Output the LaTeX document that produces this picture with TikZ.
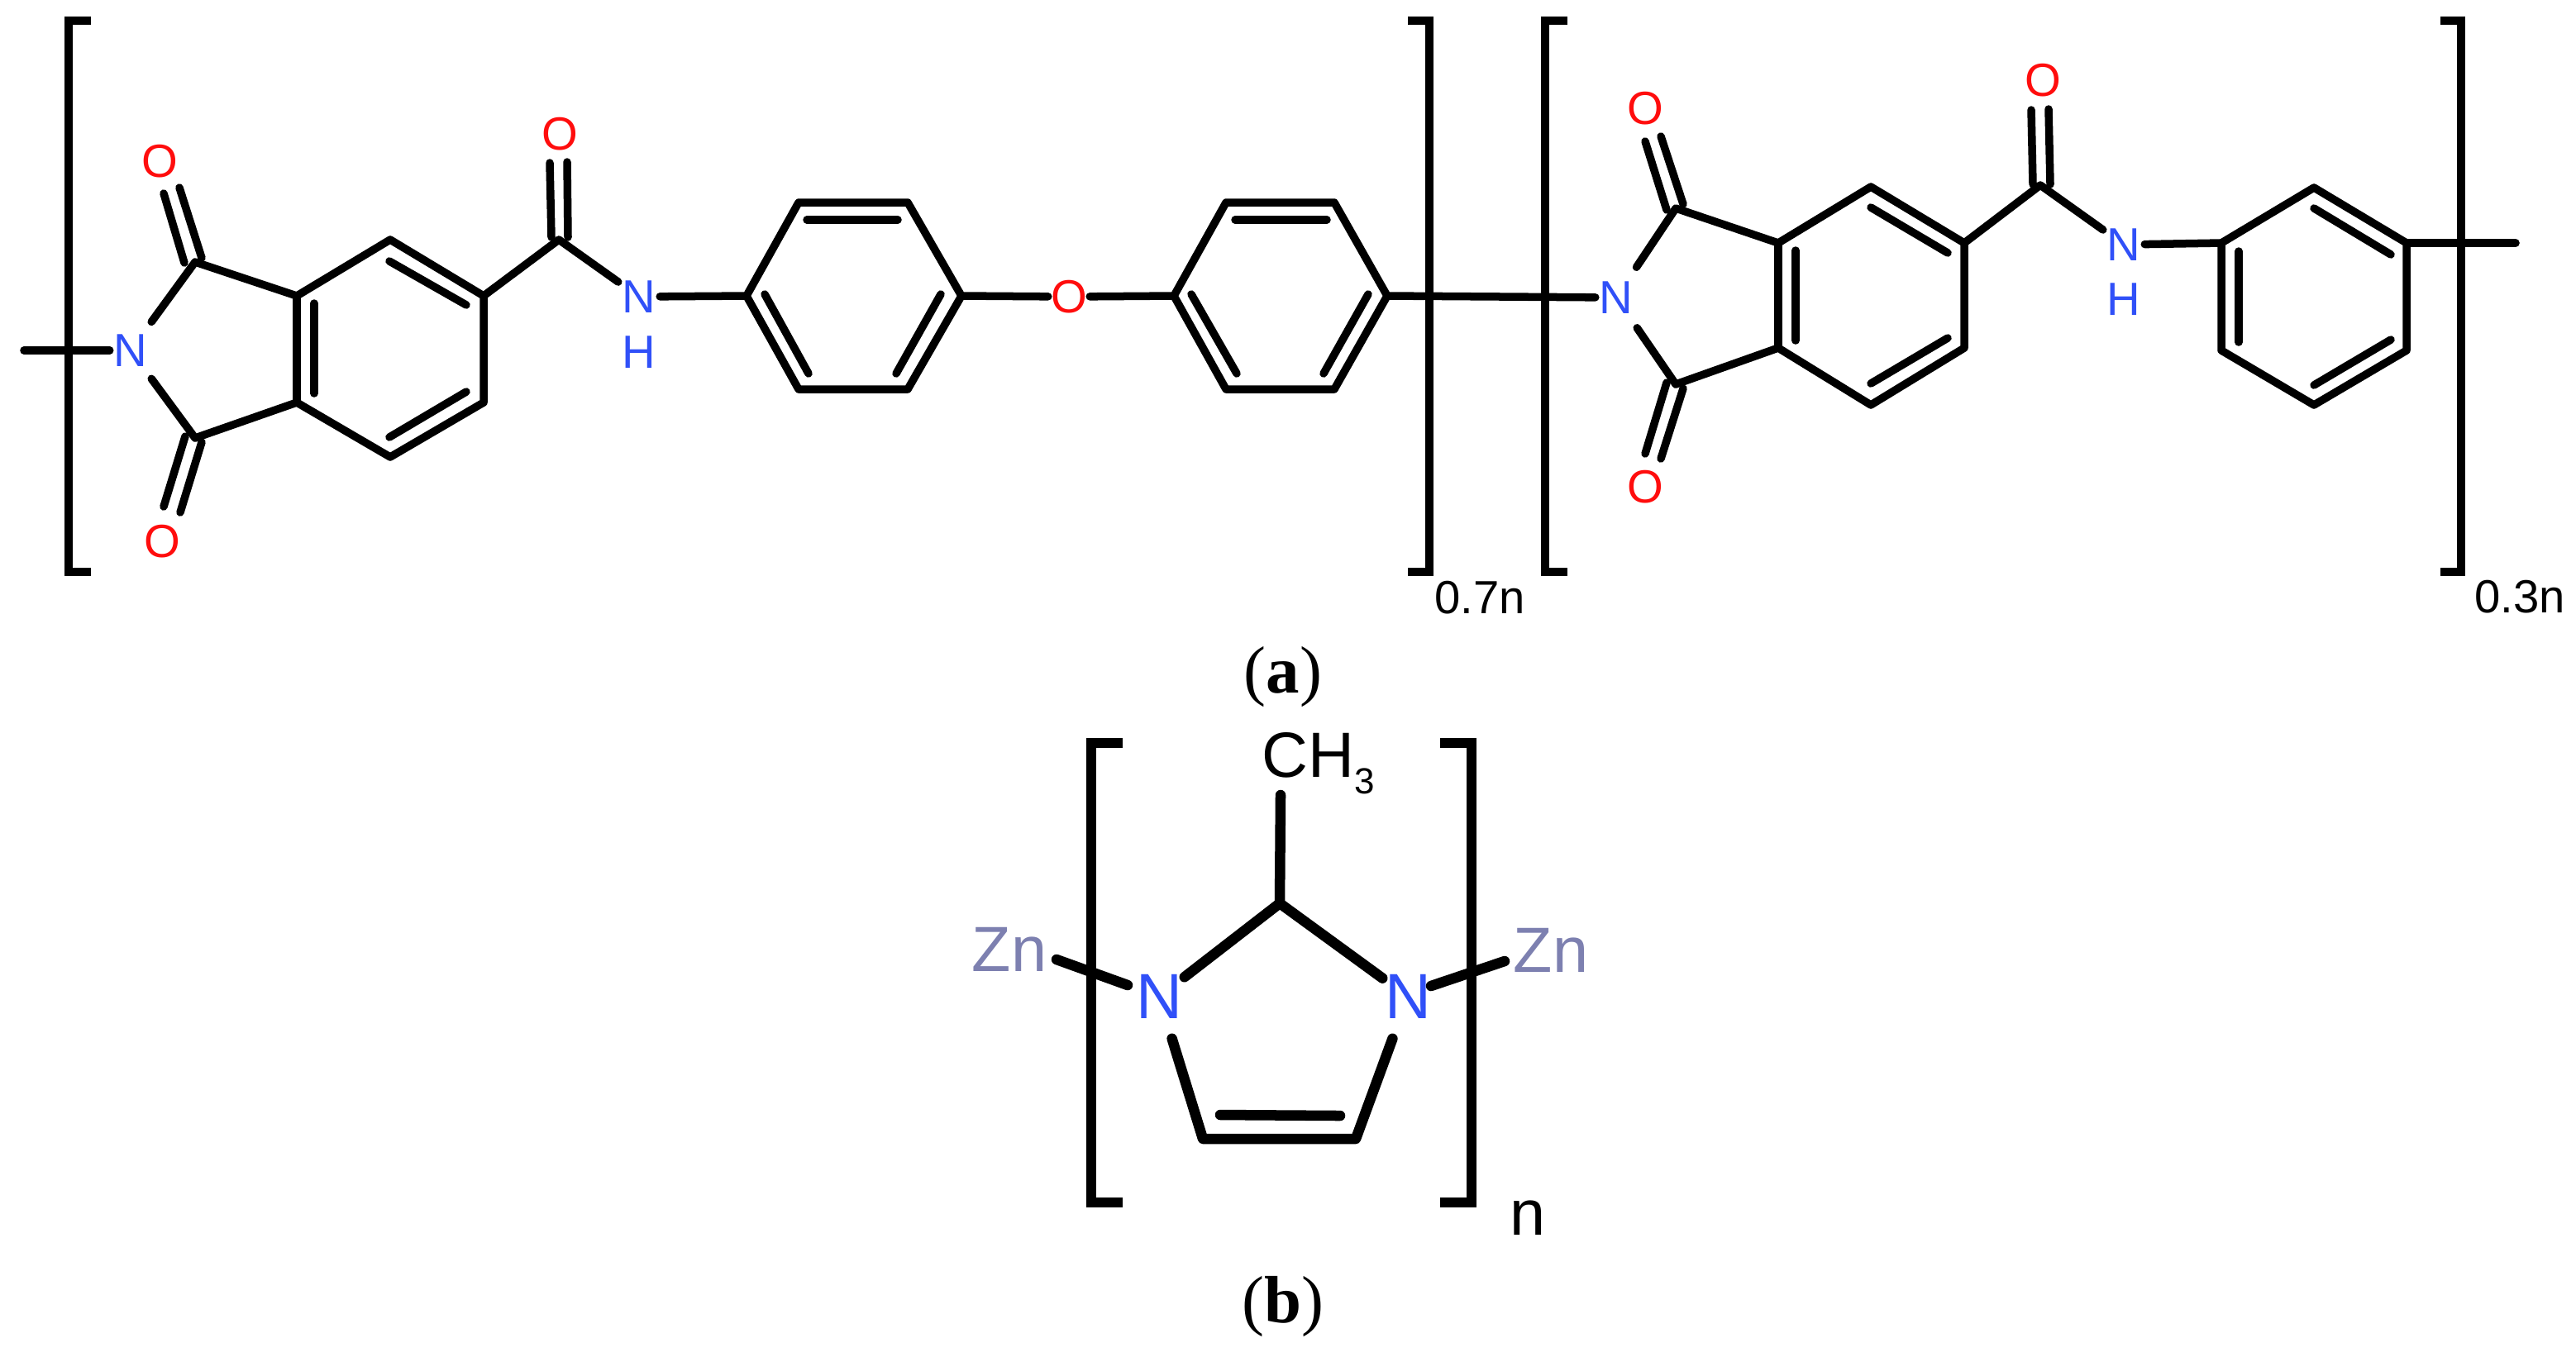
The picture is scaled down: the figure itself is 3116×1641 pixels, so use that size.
\documentclass[tikz,border=0pt]{standalone}
\usepackage{fontspec}
\setmainfont{Liberation Sans}
\newfontfamily\capfont{Liberation Serif}
\definecolor{nblue}{RGB}{48,80,248}
\definecolor{ored}{RGB}{255,13,13}
\definecolor{znblue}{RGB}{125,128,176}
\tikzset{
  bond/.style={line width=0.095cm,line cap=round,line join=round},
  bondb/.style={line width=0.125cm,line cap=round,line join=round},
  bracket/.style={line width=0.095cm,line cap=butt,line join=miter},
  bracketb/.style={line width=0.125cm,line cap=butt,line join=miter},
  atom/.style={inner sep=0pt,minimum width=0.49cm,minimum height=0.72cm,font=\fontsize{16}{16}\selectfont},
  atomb/.style={inner sep=0pt,minimum width=0.6cm,minimum height=1cm,font=\fontsize{22}{22}\selectfont},
  caption/.style={inner sep=0pt,font=\capfont\fontsize{23}{23}\selectfont}
}
\begin{document}
\begin{tikzpicture}[x=0.01cm,y=-0.01cm]
\useasboundingbox (0,0) rectangle (3116,1641);
\node[atom,text=nblue] (na1) at (158,424) {N}; %atoms, left unit
\node[atom,text=ored] (oa1) at (193,195) {O};
\node[atom,text=ored] (oa2) at (196,655) {O};
\node[atom,text=ored] (oa3) at (677,162) {O};
\node[atom,text=nblue] (na2) at (773,359) {N};
\node[atom,text=nblue] (ha2) at (773,426) {H};
\node[atom,text=ored] (oe) at (1293,359) {O};
\node[atom] (xa) at (1790,723) {0.7n};
\node[atom,text=nblue] (nc1) at (1955,360) {N}; %atoms, right unit
\node[atom,text=ored] (oc1) at (1990,131) {O};
\node[atom,text=ored] (oc2) at (1990,589) {O};
\node[atom,text=ored] (oc3) at (2471,97) {O};
\node[atom,text=nblue] (nc2) at (2569,296) {N};
\node[atom,text=nblue] (hc2) at (2569,362) {H};
\node[atom] (xc) at (3048,722) {0.3n};
\node[atomb,text=nblue] (nl) at (1402,1206) {N}; %atoms, lower unit
\node[atomb,text=nblue] (nr) at (1703,1206) {N};
\node[atomb,text=znblue] (znl) at (1221,1149) {Zn};
\node[atomb,text=znblue] (znr) at (1876,1150) {Zn};
\node[atomb,anchor=base west] (ch) at (1526,940) {CH\raisebox{-0.2cm}{\fontsize{12.5}{12}\selectfont 3}};
\node[atomb] (xb) at (1848,1474) {n};
\node[caption] (capa) at (1552,819) {(\textbf{a})};
\node[caption] (capb) at (1552,1581) {(\textbf{b})};
%brackets
\coordinate (ba1) at (83,25); \coordinate (ba2) at (83,692);
\coordinate (ba3) at (1729,25); \coordinate (ba4) at (1729,692);
\coordinate (bc1) at (1869,25); \coordinate (bc2) at (1869,692);
\coordinate (bc3) at (2977,25); \coordinate (bc4) at (2977,692);
\coordinate (bb1) at (1320,899); \coordinate (bb2) at (1320,1455);
\coordinate (bb3) at (1780,899); \coordinate (bb4) at (1780,1455);
\draw[bracket] (ba1) ++(27,0) -- (ba1) -- (ba2) -- ++(27,0);
\draw[bracket] (ba3) ++(-26,0) -- (ba3) -- (ba4) -- ++(-26,0);
\draw[bracket] (bc1) ++(27,0) -- (bc1) -- (bc2) -- ++(27,0);
\draw[bracket] (bc3) ++(-25,0) -- (bc3) -- (bc4) -- ++(-25,0);
\draw[bracketb] (bb1) ++(38,0) -- (bb1) -- (bb2) -- ++(38,0);
\draw[bracketb] (bb3) ++(-38,0) -- (bb3) -- (bb4) -- ++(-38,0);
%left unit, imide and benzene ring
\coordinate (a1) at (236,317); \coordinate (a2) at (236,530);
\coordinate (a3) at (359,358); \coordinate (a4) at (472,290);
\coordinate (a5) at (585,358); \coordinate (a6) at (585,487);
\coordinate (a7) at (472,553); \coordinate (a8) at (359,487);
\coordinate (a9) at (676,290); \coordinate (a0) at (29,424);
\draw[bond] (a0) -- (na1);
\draw[bond] (na1) -- (a1) -- (a3) -- (a4) -- (a5) -- (a6) -- (a7) -- (a8) -- (a2) -- (na1);
\draw[bond] (a3) -- (a8);
\draw[bond] (a5) -- (a9) -- (na2);
\coordinate (i1) at (380,367); \coordinate (i2) at (380,476); %inner lines
\coordinate (i3) at (471,316); \coordinate (i4) at (564,369);
\coordinate (i5) at (471,529); \coordinate (i6) at (564,474);
\draw[bond] (i1) -- (i2);
\draw[bond] (i3) -- (i4);
\draw[bond] (i5) -- (i6);
\coordinate (d1) at (198,234); \coordinate (d2) at (223,318); %carbonyls
\coordinate (d3) at (217,227); \coordinate (d4) at (244,312);
\coordinate (d5) at (224,528); \coordinate (d6) at (198,613);
\coordinate (d7) at (244,535); \coordinate (d8) at (218,620);
\coordinate (d9) at (665,197); \coordinate (d10) at (667,287);
\coordinate (d11) at (686,196); \coordinate (d12) at (687,287);
\draw[bond] (d1) -- (d2);
\draw[bond] (d3) -- (d4);
\draw[bond] (d5) -- (d6);
\draw[bond] (d7) -- (d8);
\draw[bond] (d9) -- (d10);
\draw[bond] (d11) -- (d12);
%left unit, two phenyl rings
\coordinate (r1) at (903,358); \coordinate (r2) at (966,245);
\coordinate (r3) at (1098,245); \coordinate (r4) at (1163,358);
\coordinate (r5) at (1098,471); \coordinate (r6) at (966,471);
\coordinate (s1) at (1420,358); \coordinate (s2) at (1483,245);
\coordinate (s3) at (1614,245); \coordinate (s4) at (1678,358);
\coordinate (s5) at (1614,471); \coordinate (s6) at (1483,471);
\draw[bond] (na2) -- (r1);
\draw[bond] (r1) -- (r2) -- (r3) -- (r4) -- (r5) -- (r6) -- cycle;
\draw[bond] (r4) -- (oe);
\draw[bond] (oe) -- (s1);
\draw[bond] (s1) -- (s2) -- (s3) -- (s4) -- (s5) -- (s6) -- cycle;
\draw[bond] (s4) -- (nc1);
\coordinate (j1) at (976,266); \coordinate (j2) at (1086,266); %inner lines
\coordinate (j3) at (925,356); \coordinate (j4) at (978,452);
\coordinate (j5) at (1138,356); \coordinate (j6) at (1084,452);
\coordinate (j7) at (1494,266); \coordinate (j8) at (1605,266);
\coordinate (j9) at (1441,356); \coordinate (j10) at (1496,452);
\coordinate (j11) at (1655,356); \coordinate (j12) at (1601,452);
\draw[bond] (j1) -- (j2);
\draw[bond] (j3) -- (j4);
\draw[bond] (j5) -- (j6);
\draw[bond] (j7) -- (j8);
\draw[bond] (j9) -- (j10);
\draw[bond] (j11) -- (j12);
%right unit
\coordinate (c1) at (2027,252); \coordinate (c2) at (2027,465);
\coordinate (c3) at (2151,294); \coordinate (c4) at (2263,226);
\coordinate (c5) at (2376,294); \coordinate (c6) at (2376,421);
\coordinate (c7) at (2263,490); \coordinate (c8) at (2151,421);
\coordinate (c9) at (2468,224);
\draw[bond] (nc1) -- (c1) -- (c3) -- (c4) -- (c5) -- (c6) -- (c7) -- (c8) -- (c2) -- (nc1);
\draw[bond] (c3) -- (c8);
\draw[bond] (c5) -- (c9) -- (nc2);
\coordinate (k1) at (2172,303); \coordinate (k2) at (2172,412); %inner lines
\coordinate (k3) at (2263,251); \coordinate (k4) at (2356,306);
\coordinate (k5) at (2263,464); \coordinate (k6) at (2356,409);
\draw[bond] (k1) -- (k2);
\draw[bond] (k3) -- (k4);
\draw[bond] (k5) -- (k6);
\coordinate (e1) at (2009,165); \coordinate (e2) at (2036,247); %carbonyls
\coordinate (e3) at (1990,171); \coordinate (e4) at (2016,254);
\coordinate (e5) at (2016,463); \coordinate (e6) at (1990,549);
\coordinate (e7) at (2036,470); \coordinate (e8) at (2009,555);
\coordinate (e9) at (2457,133); \coordinate (e10) at (2459,223);
\coordinate (e11) at (2478,132); \coordinate (e12) at (2480,223);
\draw[bond] (e1) -- (e2);
\draw[bond] (e3) -- (e4);
\draw[bond] (e5) -- (e6);
\draw[bond] (e7) -- (e8);
\draw[bond] (e9) -- (e10);
\draw[bond] (e11) -- (e12);
\coordinate (t1) at (2687,294); \coordinate (t2) at (2799,227); %phenyl ring
\coordinate (t3) at (2911,294); \coordinate (t4) at (2911,424);
\coordinate (t5) at (2799,490); \coordinate (t6) at (2687,424);
\coordinate (t7) at (3043,294);
\draw[bond] (nc2) -- (t1);
\draw[bond] (t1) -- (t2) -- (t3) -- (t4) -- (t5) -- (t6) -- cycle;
\draw[bond] (t3) -- (t7);
\coordinate (m1) at (2708,304); \coordinate (m2) at (2708,414);
\coordinate (m3) at (2799,252); \coordinate (m4) at (2892,308);
\coordinate (m5) at (2799,466); \coordinate (m6) at (2892,411);
\draw[bond] (m1) -- (m2);
\draw[bond] (m3) -- (m4);
\draw[bond] (m5) -- (m6);
%lower unit
\coordinate (z1) at (1548,1093); \coordinate (z2) at (1549,962);
\coordinate (z3) at (1455,1378); \coordinate (z4) at (1640,1378);
\coordinate (z5) at (1476,1349); \coordinate (z6) at (1621,1350);
\coordinate (z7) at (1278,1161); \coordinate (z8) at (1364,1192);
\coordinate (z9) at (1820,1163); \coordinate (z10) at (1731,1193);
\draw[bondb] (z2) -- (z1);
\draw[bondb] (nl) -- (z1) -- (nr);
\draw[bondb] (nl) -- (z3) -- (z4) -- (nr);
\draw[bondb] (z5) -- (z6);
\draw[bondb] (z7) -- (z8);
\draw[bondb] (z9) -- (z10);
\end{tikzpicture}
\end{document}
